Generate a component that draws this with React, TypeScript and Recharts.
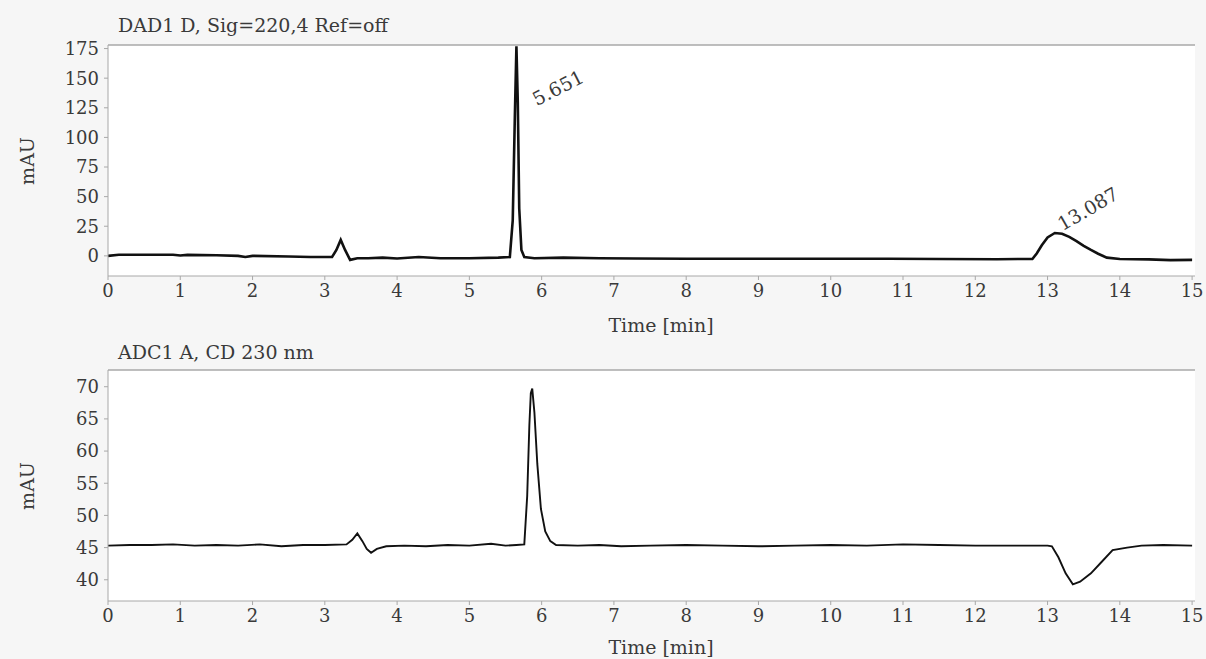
import React from 'react';
import { LineChart, Line, XAxis, YAxis, CartesianGrid, ReferenceLine } from 'recharts';

// DAD1 D trace (time in min, signal in mAU)
const dadTime = [
  0, 0.15, 0.5, 0.9, 1.0, 1.1, 1.5, 1.8, 1.9, 2.0, 2.5, 2.8, 3.1, 3.16, 3.22, 3.28, 3.35, 3.45, 3.6, 3.8,
  4.0, 4.3, 4.6, 5.0, 5.4, 5.56, 5.6, 5.63, 5.651, 5.67, 5.69, 5.72, 5.76, 5.9, 6.3, 6.8, 7.3, 8, 9, 10,
  10.8, 11.5, 12.3, 12.79, 12.85, 12.92, 13.0, 13.1, 13.2, 13.3, 13.4, 13.5, 13.6, 13.7, 13.82, 14.0, 14.4, 14.7, 15,
];
const dadSignal = [
  0, 1, 1, 1, 0.3, 0.8, 0.5, 0, -1, 0, -0.5, -1, -1, 5, 13.5, 5, -3.4, -2, -2, -1.5,
  -2.2, -1, -2, -2, -1.5, -1, 30, 120, 177, 130, 40, 5, -1, -2, -1.5, -2, -2.2, -2.5, -2.5, -2.5,
  -2.5, -2.7, -2.8, -2.6, 2, 9, 15.5, 19.3, 18.6, 16, 12.5, 8.5, 5, 1.8, -1.5, -2.6, -3, -3.6, -3.4,
];

// ADC1 A trace
const adcTime = [
  0, 0.3, 0.6, 0.9, 1.2, 1.5, 1.8, 2.1, 2.4, 2.7, 3.0, 3.3, 3.38, 3.45, 3.52, 3.58, 3.64, 3.72, 3.85, 4.1,
  4.4, 4.7, 5.0, 5.3, 5.5, 5.65, 5.76, 5.8, 5.83, 5.85, 5.87, 5.9, 5.94, 5.99, 6.05, 6.12, 6.2, 6.5, 6.8, 7.1,
  7.5, 8, 8.5, 9, 9.5, 10, 10.5, 11, 11.5, 12, 12.5, 13.0, 13.06, 13.15, 13.25, 13.35, 13.45, 13.6, 13.75, 13.9,
  14.1, 14.3, 14.6, 15,
];
const adcSignal = [
  45.3, 45.4, 45.4, 45.5, 45.3, 45.4, 45.3, 45.5, 45.2, 45.4, 45.4, 45.5, 46.2, 47.2, 46.0, 44.8, 44.2, 44.8, 45.2, 45.3,
  45.2, 45.4, 45.3, 45.6, 45.3, 45.4, 45.5, 53, 64, 69, 69.7, 66, 58, 51, 47.5, 46.0, 45.4, 45.3, 45.4, 45.2,
  45.3, 45.4, 45.3, 45.2, 45.3, 45.4, 45.3, 45.5, 45.4, 45.3, 45.3, 45.3, 45.2, 43.5, 41.0, 39.3, 39.7, 41.0, 42.8, 44.6,
  45.0, 45.3, 45.4, 45.3,
];

const timeTicks = [0, 1, 2, 3, 4, 5, 6, 7, 8, 9, 10, 11, 12, 13, 14, 15];
const dadTicks = [0, 25, 50, 75, 100, 125, 150, 175];
const adcTicks = [40, 45, 50, 55, 60, 65, 70];

const dadData = dadTime.map((t, i) => ({ t, v: dadSignal[i] }));
const adcData = adcTime.map((t, i) => ({ t, v: adcSignal[i] }));

const FONT = '"DejaVu Serif", "Liberation Serif", "Noto Serif", serif';
const AXIS = '#a8a8a8';
const tickStyle = { fill: '#3a3a3a', fontSize: 18, fontFamily: FONT };

const Panel = ({ data, domain, ticks, marginTop, height, xHeight, strokeWidth }: any) => (
  <LineChart
    width={1206}
    height={height}
    data={data}
    margin={{ top: marginTop, right: 11, left: 0, bottom: 0 }}
  >
    <CartesianGrid horizontal={false} vertical={false} fill="#ffffff" stroke="none" />
    <XAxis
      dataKey="t"
      type="number"
      domain={[0, 15.04]}
      ticks={timeTicks}
      tick={tickStyle}
      tickSize={4}
      tickMargin={4}
      height={xHeight}
      stroke={AXIS}
      allowDataOverflow
    />
    <YAxis
      type="number"
      domain={domain}
      ticks={ticks}
      tick={tickStyle}
      tickSize={4}
      tickMargin={5}
      width={108}
      stroke={AXIS}
      allowDataOverflow
    />
    <ReferenceLine y={domain[1]} stroke={AXIS} strokeWidth={1.5} />
    <Line
      type="linear"
      dataKey="v"
      stroke="#111"
      strokeWidth={strokeWidth}
      dot={false}
      isAnimationActive={false}
    />
  </LineChart>
);

const abs = (left: number, top: number, extra: any = {}) => ({
  position: 'absolute' as const,
  left,
  top,
  whiteSpace: 'nowrap' as const,
  lineHeight: 1,
  color: '#3a3a3a',
  ...extra,
});

const rotated = (cx: number, cy: number, deg: number, size: number) =>
  abs(cx, cy, { fontSize: size, transform: `translate(-50%, -50%) rotate(${deg}deg)` });

export default function App() {
  return (
    <div
      style={{
        position: 'absolute',
        left: 0,
        top: 0,
        width: 1206,
        height: 659,
        overflow: 'hidden',
        background: '#f6f6f6',
        fontFamily: FONT,
      }}
    >
      <div style={{ position: 'absolute', left: 0, top: 0 }}>
        <Panel data={dadData} domain={[-17, 178]} ticks={dadTicks} marginTop={45} height={330} xHeight={54} strokeWidth={2.6} />
      </div>
      <div style={{ position: 'absolute', left: 0, top: 330 }}>
        <Panel data={adcData} domain={[36.7, 72.6]} ticks={adcTicks} marginTop={40} height={329} xHeight={58} strokeWidth={1.9} />
      </div>

      <div style={abs(118, 16, { fontSize: 19 })}>DAD1 D, Sig=220,4 Ref=off</div>
      <div style={abs(118, 343, { fontSize: 19 })}>ADC1 A, CD 230 nm</div>

      <div style={rotated(27, 161, -90, 19)}>mAU</div>
      <div style={rotated(27, 486, -90, 19)}>mAU</div>

      <div style={rotated(661, 325, 0, 19)}>Time [min]</div>
      <div style={rotated(661, 647, 0, 19)}>Time [min]</div>

      <div style={rotated(558, 88, -27, 19)}>5.651</div>
      <div style={rotated(1088, 209, -30, 19)}>13.087</div>
    </div>
  );
}
